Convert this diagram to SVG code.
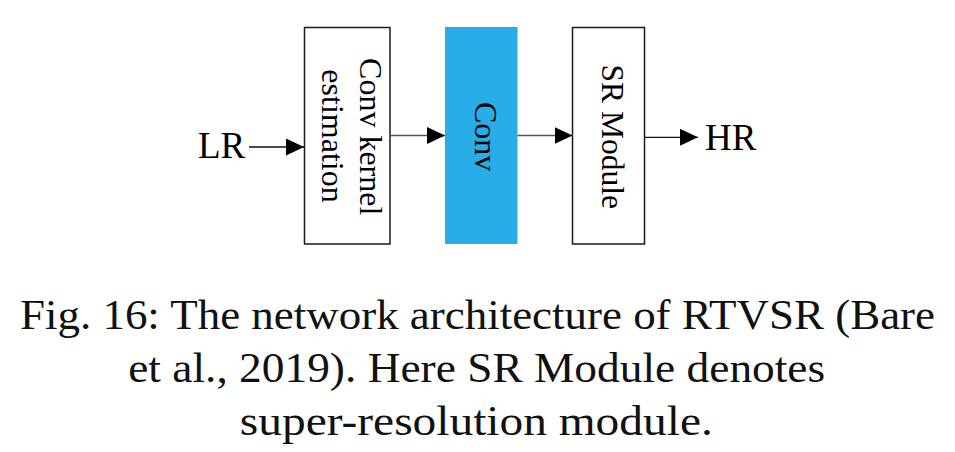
<svg xmlns="http://www.w3.org/2000/svg" width="955" height="452" viewBox="0 0 955 452">
<style>
  .box { fill: #ffffff; stroke: #1a1a1a; stroke-width: 1.5; }
  .conv { fill: #29ADE8; stroke: none; }
  .lbl { font-family: "Liberation Serif", "Times New Roman", serif; fill: #000; }
  .vt { font-family: "Liberation Serif", "Times New Roman", serif; font-size: 32px; fill: #000; text-anchor: middle; }
  .cap { font-family: "Liberation Serif", "Times New Roman", serif; font-size: 42.5px; fill: #111; text-anchor: middle; }
  .wire { stroke: #555555; stroke-width: 1.5; fill: none; }
  .wire-b { stroke: #111111; stroke-width: 1.3; fill: none; }
</style>
<defs>
  <marker id="ah" markerWidth="18" markerHeight="17" refX="18" refY="8.5" orient="auto" markerUnits="userSpaceOnUse">
    <path d="M0,0 L18,8.5 L0,17 Z" fill="#000"/>
  </marker>
</defs>
<rect width="955" height="452" fill="#ffffff"/>

<g id="node-kernel">
  <rect class="box" x="304.5" y="27.5" width="85.5" height="216.5"/>
  <text class="vt" transform="translate(360,136.7) rotate(90)">Conv kernel</text>
  <text class="vt" transform="translate(321.7,136) rotate(90)">estimation</text>
</g>
<g id="node-conv">
  <rect class="conv" x="445" y="27" width="72.5" height="217"/>
  <text class="vt" transform="translate(475,136.7) rotate(90)">Conv</text>
</g>
<g id="node-sr">
  <rect class="box" x="572.5" y="27.5" width="72" height="216.5"/>
  <text class="vt" font-size="31.5" transform="translate(601.7,136.7) rotate(90)" style="font-size:31.5px">SR Module</text>
</g>
<g id="node-lr">
  <text class="lbl" x="198" y="158" font-size="37">LR</text>
</g>
<g id="node-hr">
  <text class="lbl" x="705" y="150" font-size="37">HR</text>
</g>

<g id="connectors">
  <line class="wire-b" x1="249" y1="147" x2="304" y2="147" marker-end="url(#ah)"/>
  <line class="wire" x1="390" y1="135.5" x2="445" y2="135.5" marker-end="url(#ah)"/>
  <line class="wire" x1="517.5" y1="135.5" x2="572.5" y2="135.5" marker-end="url(#ah)"/>
  <line class="wire-b" x1="644.5" y1="137.3" x2="698" y2="137.3" marker-end="url(#ah)"/>
</g>

<g id="caption">
  <text class="cap" x="477.5" y="329.3" textLength="915" lengthAdjust="spacingAndGlyphs">Fig. 16: The network architecture of RTVSR (Bare</text>
  <text class="cap" x="476.7" y="381.7" textLength="697" lengthAdjust="spacingAndGlyphs">et al., 2019). Here SR Module denotes</text>
  <text class="cap" x="476.3" y="434.5" textLength="473" lengthAdjust="spacingAndGlyphs">super-resolution module.</text>
</g>
</svg>
